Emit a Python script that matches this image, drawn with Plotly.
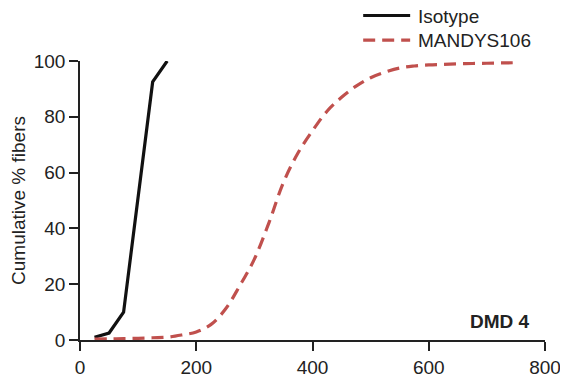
import plotly.graph_objects as go

iso_x = [25, 50, 75, 100, 125, 150]
iso_y = [1.0, 2.5, 10.0, 51.0, 92.5, 100.0]

man_x = [25, 50, 75, 100, 125, 150, 175, 200, 225, 250, 275, 300, 325, 350, 375,
         400, 425, 450, 475, 500, 525, 550, 575, 600, 625, 650, 675, 700, 725, 750]
man_y = [0.3, 0.4, 0.5, 0.6, 0.8, 1.0, 1.8, 2.9, 5.5, 11.0, 19.5, 29.0, 42.0, 56.5, 67.0,
         75.0, 82.0, 87.0, 91.0, 94.0, 96.0, 97.5, 98.2, 98.6, 98.8, 99.0, 99.1, 99.2, 99.3, 99.4]

x_ticks = [0, 200, 400, 600, 800]
y_ticks = [0, 20, 40, 60, 80, 100]

RED = "#C0504D"
FONT = "Liberation Sans, Arial, sans-serif"
TXT = "#222222"
FS = 19

fig = go.Figure()
fig.add_trace(go.Scatter(x=iso_x, y=iso_y, mode="lines", name="Isotype",
                         line=dict(color="#111111", width=3.2)))
fig.add_trace(go.Scatter(x=man_x, y=man_y, mode="lines", name="MANDYS106",
                         line=dict(color=RED, width=3.2, dash="12px,7px", shape="spline")))

axis_common = dict(showgrid=False, zeroline=False, showline=True, linecolor=TXT,
                   linewidth=1.6, ticks="outside", ticklen=9, tickwidth=1.6, tickcolor=TXT,
                   automargin=False,
                   tickfont=dict(family=FONT, size=FS, color=TXT))
fig.update_xaxes(range=[0, 800], tickvals=x_ticks, **axis_common)
fig.update_yaxes(range=[0, 100], tickvals=y_ticks,
                 title=dict(text="Cumulative % fibers", font=dict(family=FONT, size=FS, color=TXT),
                            standoff=8),
                 **axis_common)

# manual legend (paper coords)
fig.add_shape(type="line", xref="paper", yref="paper", x0=0.609, x1=0.710, y0=1.163, y1=1.163,
              line=dict(color="#111111", width=3.2))
fig.add_shape(type="line", xref="paper", yref="paper", x0=0.609, x1=0.710, y0=1.075, y1=1.075,
              line=dict(color=RED, width=3.2, dash="12px,7px"))
fig.add_annotation(xref="paper", yref="paper", x=0.722, y=1.159, text="Isotype", showarrow=False,
                   xanchor="left", yanchor="middle", font=dict(family=FONT, size=FS, color=TXT))
fig.add_annotation(xref="paper", yref="paper", x=0.722, y=1.075, text="MANDYS106", showarrow=False,
                   xanchor="left", yanchor="middle", font=dict(family=FONT, size=FS, color=TXT))
fig.add_annotation(xref="paper", yref="paper", x=0.972, y=0.065, text="<b>DMD 4</b>", showarrow=False,
                   xanchor="right", yanchor="middle", font=dict(family=FONT, size=FS, color=TXT))

# page body has an 8px default margin, so the figure is 8px smaller each way
fig.update_layout(width=560, height=371, showlegend=False,
                  margin=dict(l=72, r=23, t=53, b=39, autoexpand=False),
                  plot_bgcolor="white", paper_bgcolor="white")
fig.update_traces(cliponaxis=False)
fig.write_html("out.html")
